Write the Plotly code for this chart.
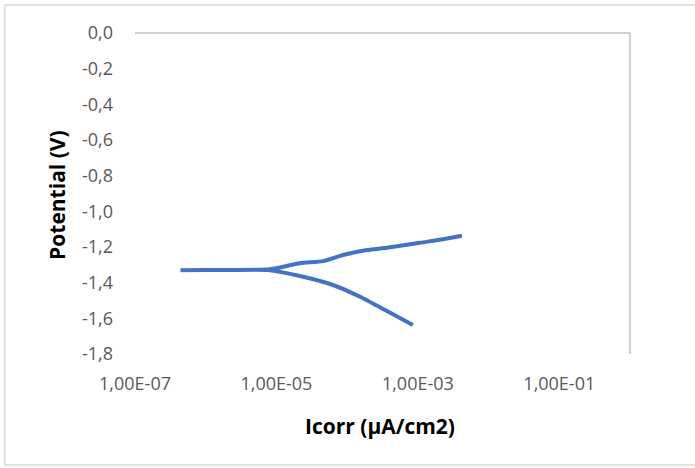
import plotly.graph_objects as go

# Polarization curve: cathodic branch (from most negative) to Ecorr, then anodic branch
icorr = [8.5e-4, 3.66e-4, 1.52e-4, 6.3e-5, 2.15e-5, 8.1e-6, 2.2e-6, 4.4e-7,
         2.2e-6, 8.1e-6, 2.15e-5, 4.56e-5, 8.75e-5, 1.91e-4, 3.66e-4, 1.07e-3, 2.27e-3, 4.2e-3]
potential = [-1.637, -1.559, -1.479, -1.413, -1.363, -1.330, -1.329, -1.330,
             -1.329, -1.325, -1.291, -1.279, -1.245, -1.217, -1.204, -1.176, -1.157, -1.137]

x_tickvals = [1e-7, 1e-5, 1e-3, 1e-1]
x_ticktext = ["1,00E-07", "1,00E-05", "1,00E-03", "1,00E-01"]
y_tickvals = [0, -0.2, -0.4, -0.6, -0.8, -1.0, -1.2, -1.4, -1.6, -1.8]
y_ticktext = ["0,0", "-0,2", "-0,4", "-0,6", "-0,8", "-1,0", "-1,2", "-1,4", "-1,6", "-1,8"]

FONT = "Open Sans"
BORDER = dict(color="#D9D9D9", width=1.5)

fig = go.Figure()
fig.add_trace(go.Scatter(x=icorr, y=potential, mode="lines",
                         line=dict(color="#4472C4", width=4, shape="spline", smoothing=0.6),
                         showlegend=False, hoverinfo="x+y"))

fig.update_layout(
    width=695, height=468,
    margin=dict(l=135, r=65, t=33, b=114),
    paper_bgcolor="white", plot_bgcolor="white",
    font=dict(family=FONT, color="#595959", size=18),
    xaxis=dict(type="log", range=[-7, 0], tickvals=x_tickvals, ticktext=x_ticktext,
               showgrid=False, zeroline=False, showline=False, ticks="",
               ticklabelstandoff=17, tickfont=dict(family=FONT, size=18, color="#595959")),
    yaxis=dict(range=[-1.8, 0], tickvals=y_tickvals, ticktext=y_ticktext,
               showgrid=False, zeroline=False, showline=False, ticks="",
               ticklabelstandoff=21, tickfont=dict(family=FONT, size=18, color="#595959")),
    shapes=[
        dict(type="line", xref="paper", yref="paper", x0=0, x1=1, y0=1, y1=1,
             line=dict(color="#BFBFBF", width=1.5)),
        dict(type="line", xref="paper", yref="paper", x0=1, x1=1, y0=0, y1=1,
             line=dict(color="#BFBFBF", width=1.5)),
        dict(type="line", xref="paper", yref="paper", x0=-0.263, x1=1.2, y0=1.087, y1=1.087,
             line=BORDER, layer="below"),
        dict(type="line", xref="paper", yref="paper", x0=-0.263, x1=1.2, y0=-0.346, y1=-0.346,
             line=BORDER, layer="below"),
        dict(type="line", xref="paper", yref="paper", x0=-0.263, x1=-0.263, y0=-0.346, y1=1.087,
             line=BORDER, layer="below"),
    ],
    annotations=[
        dict(text="<b>Icorr (µA/cm2)</b>", xref="paper", yref="paper", x=0.495, y=-0.224,
             xanchor="center", yanchor="middle", showarrow=False,
             font=dict(family=FONT, size=21, color="#000000")),
        dict(text="<b>Potential (V)</b>", xref="paper", yref="paper", x=-0.158, y=0.495,
             xanchor="center", yanchor="middle", showarrow=False, textangle=-90,
             font=dict(family=FONT, size=21, color="#000000")),
    ],
)

fig.write_html("out.html", config={"displayModeBar": False},
               post_script="document.body.style.margin='0';")
